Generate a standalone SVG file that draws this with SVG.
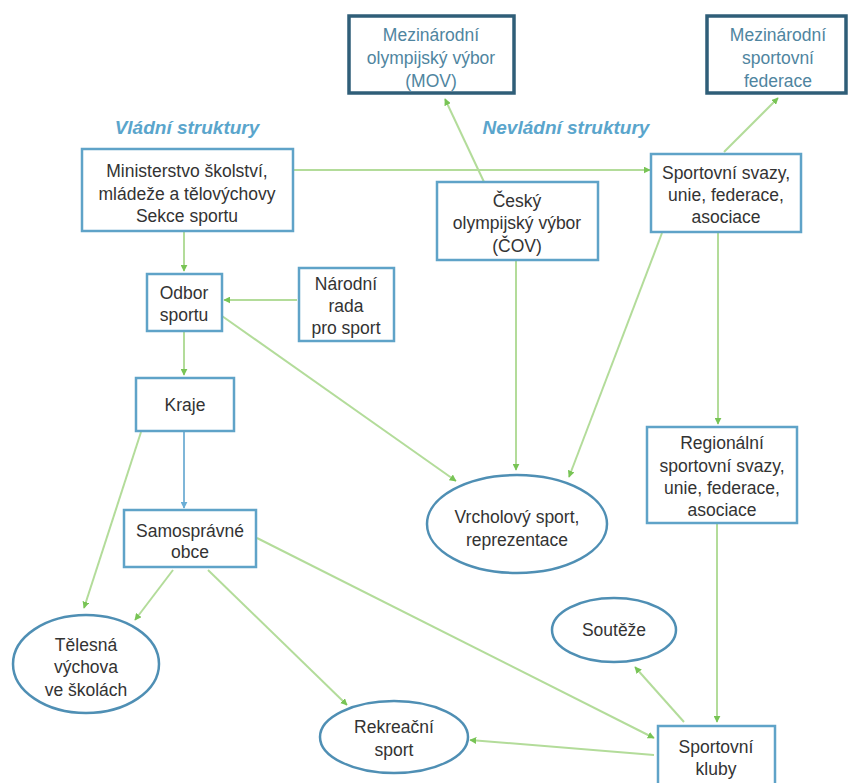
<svg xmlns="http://www.w3.org/2000/svg" width="848" height="783" viewBox="0 0 848 783">
<defs>
<style>
text{font-family:"Liberation Sans","DejaVu Sans",sans-serif;font-size:17.5px;fill:#333;text-anchor:middle}
.box{fill:#fff;stroke:#5fa3c8;stroke-width:2.5}
.dark{fill:#fff;stroke:#2f5e78;stroke-width:3.5}
.ell{fill:#fff;stroke:#4f8fb4;stroke-width:2.5}
.intl{fill:#4f85a0}
.title{font-style:italic;font-weight:bold;fill:#5aa5cc;font-size:19px}
.c{stroke:#b3dc9a;stroke-width:2;fill:none;marker-end:url(#ah)}
.cb{stroke:#7fb6d8;stroke-width:2;fill:none;marker-end:url(#ahb)}
</style>
<marker id="ah" viewBox="0 0 10 10" refX="9" refY="5" markerWidth="7" markerHeight="7" orient="auto" markerUnits="userSpaceOnUse">
<path d="M0,0 L10,5 L0,10 z" fill="#78c455"/>
</marker>
<marker id="ahb" viewBox="0 0 10 10" refX="9" refY="5" markerWidth="7" markerHeight="7" orient="auto" markerUnits="userSpaceOnUse">
<path d="M0,0 L10,5 L0,10 z" fill="#6aaed6"/>
</marker>
</defs>
<rect width="848" height="783" fill="#fff"/>

<text class="title" x="187" y="134">Vládní struktury</text>
<text class="title" x="566" y="134">Nevládní struktury</text>

<g id="connectors">
<line class="c" x1="293" y1="170" x2="650" y2="170"/>
<line class="c" x1="184" y1="232" x2="184" y2="271"/>
<line class="c" x1="297" y1="300" x2="224" y2="300"/>
<line class="c" x1="184" y1="332" x2="184" y2="375"/>
<line class="c" x1="222" y1="316" x2="456" y2="481"/>
<line class="cb" x1="184" y1="431" x2="184" y2="508"/>
<line class="c" x1="141" y1="432" x2="84" y2="608"/>
<line class="c" x1="173" y1="570" x2="135" y2="620"/>
<line class="c" x1="208" y1="570" x2="347" y2="705"/>
<line class="c" x1="257" y1="538" x2="654" y2="738"/>
<line class="c" x1="484" y1="182" x2="445" y2="99"/>
<line class="c" x1="516" y1="261" x2="516" y2="470"/>
<line class="c" x1="724" y1="152" x2="778" y2="98"/>
<line class="c" x1="662" y1="233" x2="569" y2="477"/>
<line class="c" x1="718" y1="233" x2="718" y2="424"/>
<line class="c" x1="717" y1="524" x2="717" y2="722"/>
<line class="c" x1="684" y1="722" x2="635" y2="667"/>
<line class="c" x1="654" y1="755" x2="470" y2="740"/>
</g>

<g id="mov">
<rect class="dark" x="349" y="16" width="165" height="77"/>
<text class="intl" x="431" y="41">Mezinárodní</text>
<text class="intl" x="431" y="64">olympijský výbor</text>
<text class="intl" x="431" y="87">(MOV)</text>
</g>
<g id="msf">
<rect class="dark" x="707" y="16" width="139" height="77"/>
<text class="intl" x="778" y="41">Mezinárodní</text>
<text class="intl" x="778" y="64">sportovní</text>
<text class="intl" x="778" y="87">federace</text>
</g>
<g id="ministerstvo">
<rect class="box" x="82" y="149" width="211" height="82"/>
<text x="187" y="177">Ministerstvo školství,</text>
<text x="187" y="200">mládeže a tělovýchovy</text>
<text x="187" y="222">Sekce sportu</text>
</g>
<g id="svazy">
<rect class="box" x="651" y="154" width="150" height="78"/>
<text x="726" y="179">Sportovní svazy,</text>
<text x="726" y="201">unie, federace,</text>
<text x="726" y="223">asociace</text>
</g>
<g id="cov">
<rect class="box" x="437" y="182" width="161" height="78"/>
<text x="517" y="207">Český</text>
<text x="517" y="229">olympijský výbor</text>
<text x="517" y="252">(ČOV)</text>
</g>
<g id="odbor">
<rect class="box" x="147" y="274" width="75" height="57"/>
<text x="184" y="299">Odbor</text>
<text x="184" y="321">sportu</text>
</g>
<g id="narodni">
<rect class="box" x="299" y="268" width="95" height="73"/>
<text x="346" y="290">Národní</text>
<text x="346" y="312">rada</text>
<text x="346" y="334">pro sport</text>
</g>
<g id="kraje">
<rect class="box" x="136" y="378" width="98" height="53"/>
<text x="185" y="411">Kraje</text>
</g>
<g id="obce">
<rect class="box" x="124" y="510" width="132" height="57"/>
<text x="190" y="537">Samosprávné</text>
<text x="190" y="558">obce</text>
</g>
<g id="vrcholovy">
<ellipse class="ell" cx="517" cy="524" rx="90" ry="49"/>
<text x="517" y="523">Vrcholový sport,</text>
<text x="517" y="546">reprezentace</text>
</g>
<g id="regionalni">
<rect class="box" x="647" y="427" width="150" height="96"/>
<text x="722" y="449">Regionální</text>
<text x="722" y="472">sportovní svazy,</text>
<text x="722" y="494">unie, federace,</text>
<text x="722" y="516">asociace</text>
</g>
<g id="telesna">
<ellipse class="ell" cx="86" cy="664" rx="73" ry="49"/>
<text x="86" y="651">Tělesná</text>
<text x="86" y="673">výchova</text>
<text x="86" y="696">ve školách</text>
</g>
<g id="souteze">
<ellipse class="ell" cx="614" cy="630" rx="62" ry="32"/>
<text x="614" y="636">Soutěže</text>
</g>
<g id="rekreacni">
<ellipse class="ell" cx="394" cy="737" rx="74" ry="36"/>
<text x="394" y="733">Rekreační</text>
<text x="394" y="756">sport</text>
</g>
<g id="kluby">
<rect class="box" x="658" y="726" width="117" height="66"/>
<text x="716" y="753">Sportovní</text>
<text x="716" y="775">kluby</text>
</g>
</svg>
